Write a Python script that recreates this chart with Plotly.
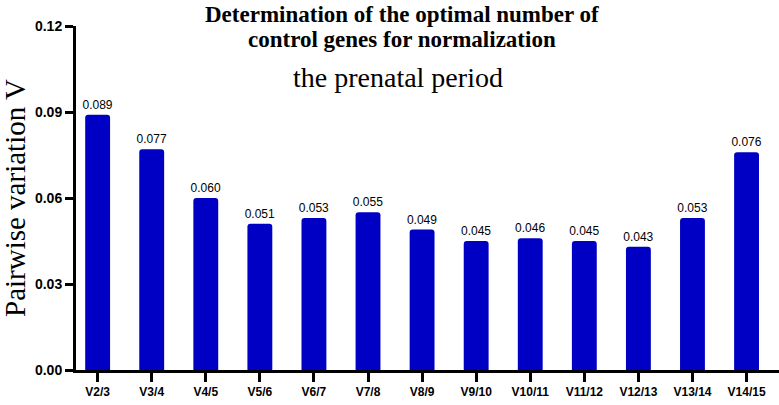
import plotly.graph_objects as go

categories = ["V2/3", "V3/4", "V4/5", "V5/6", "V6/7", "V7/8", "V8/9",
              "V9/10", "V10/11", "V11/12", "V12/13", "V13/14", "V14/15"]
pairwise_v = [0.089, 0.077, 0.060, 0.051, 0.053, 0.055, 0.049,
              0.045, 0.046, 0.045, 0.043, 0.053, 0.076]
y_ticks = [0.00, 0.03, 0.06, 0.09, 0.12]

BAR_COLOR = "#0000c4"
SERIF = "Times New Roman, Liberation Serif, serif"
SANS = "Arial, Liberation Sans, sans-serif"

# plot area spans y=26..370 px, x=76..779 px
def py(px):
    return (370 - px) / 344.0

def px_x(px):
    return (px - 76) / 703.0

fig = go.Figure(go.Bar(
    x=list(range(len(categories))),
    y=pairwise_v,
    width=0.46,
    marker=dict(color=BAR_COLOR, line=dict(width=0), cornerradius=3),
    text=[f"{v:.3f}" for v in pairwise_v],
    textposition="outside",
    constraintext="none",
    textfont=dict(family=SANS, size=12, color="black"),
    cliponaxis=False,
))

fig.update_layout(
    width=779, height=405,
    margin=dict(l=76, r=0, t=26, b=35, autoexpand=False),
    plot_bgcolor="white", paper_bgcolor="white",
    showlegend=False,
    xaxis=dict(
        range=[-0.4, 12.6],
        tickmode="array",
        tickvals=list(range(len(categories))),
        ticktext=categories,
        showline=True, linecolor="black", linewidth=3,
        ticks="outside", ticklen=9, tickwidth=3, tickcolor="black",
        tickfont=dict(family=SANS, size=12, color="black", weight="bold"),
        showgrid=False, zeroline=False,
    ),
    yaxis=dict(
        range=[0, 0.12],
        tickmode="array",
        tickvals=y_ticks,
        ticktext=[f"{t:.2f}" for t in y_ticks],
        showline=True, linecolor="black", linewidth=3,
        ticks="outside", ticklen=8, tickwidth=3, tickcolor="black",
        tickfont=dict(family=SANS, size=14, color="black", weight="bold"),
        showgrid=False, zeroline=False,
    ),
)

fig.add_annotation(
    text="<b>Determination of the optimal number of</b>",
    xref="paper", yref="paper", x=px_x(402), y=py(0),
    xanchor="center", yanchor="top", showarrow=False,
    font=dict(family=SERIF, size=23, color="black"),
)
fig.add_annotation(
    text="<b>control genes for normalization</b>",
    xref="paper", yref="paper", x=px_x(402), y=py(40),
    xanchor="center", yanchor="middle", showarrow=False,
    font=dict(family=SERIF, size=23, color="black"),
)
fig.add_annotation(
    text="the prenatal period",
    xref="paper", yref="paper", x=px_x(398), y=py(77),
    xanchor="center", yanchor="middle", showarrow=False,
    font=dict(family=SERIF, size=28, color="black"),
)
fig.add_annotation(
    text="Pairwise variation V",
    xref="paper", yref="paper", x=px_x(15), y=py(198),
    xanchor="center", yanchor="middle", showarrow=False, textangle=-90,
    font=dict(family=SERIF, size=29, color="black"),
)

fig.write_html("out.html", config={"displayModeBar": False},
               post_script="document.body.style.margin='0';")
